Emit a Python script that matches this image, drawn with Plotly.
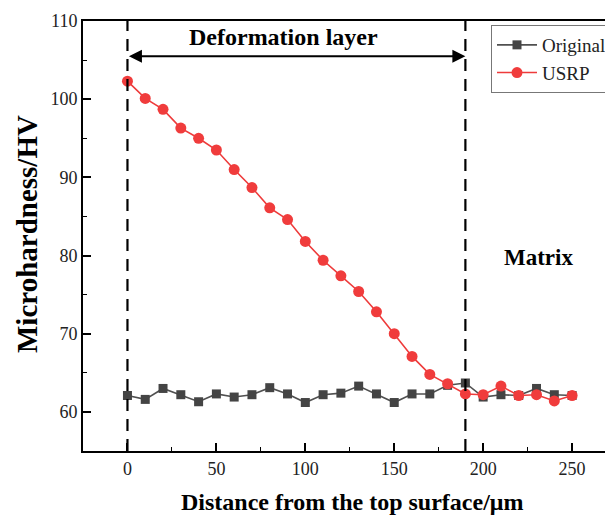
import plotly.graph_objects as go

# Depth profile (µm) and microhardness readings (HV)
depth = [0, 10, 20, 30, 40, 50, 60, 70, 80, 90, 100, 110, 120, 130,
         140, 150, 160, 170, 180, 190, 200, 210, 220, 230, 240, 250]
original_hv = [62.1, 61.6, 63.0, 62.2, 61.3, 62.3, 61.9, 62.2, 63.1, 62.3,
               61.2, 62.2, 62.4, 63.3, 62.3, 61.2, 62.3, 62.3, 63.4, 63.7,
               61.9, 62.2, 62.1, 63.0, 62.2, 62.1]
usrp_hv = [102.3, 100.1, 98.7, 96.3, 95.0, 93.5, 91.0, 88.7, 86.1, 84.6,
           81.8, 79.4, 77.4, 75.4, 72.8, 70.0, 67.1, 64.8, 63.6, 62.3,
           62.2, 63.3, 62.1, 62.2, 61.4, 62.1]

layer_bounds = [0, 190]
x_ticks = [0, 50, 100, 150, 200, 250]
y_ticks = [60, 70, 80, 90, 100, 110]

SERIF = "Liberation Serif, Times New Roman, serif"

# plot area geometry (px) used to place free-floating labels
L, T, B, W, H = 83, 21, 65, 605, 516
PW, PH = W - L, H - T - B

fig = go.Figure()

fig.add_trace(go.Scatter(
    x=depth, y=original_hv, name="Original", mode="lines+markers",
    line=dict(color="#505050", width=1.6),
    marker=dict(symbol="square", size=9, color="#444444"),
))
fig.add_trace(go.Scatter(
    x=depth, y=usrp_hv, name="USRP", mode="lines+markers",
    line=dict(color="#ee3b3b", width=1.6),
    marker=dict(symbol="circle", size=11, color="#f03c3c"),
))

# Dashed boundaries of the deformation layer
for xb in layer_bounds:
    fig.add_shape(type="line", x0=xb, x1=xb, y0=55, y1=110,
                  xref="x", yref="y", layer="above",
                  line=dict(color="black", width=2.2, dash="12px,8px"))

# Double-headed arrow spanning the layer
fig.add_annotation(x=layer_bounds[1], y=105.5, ax=layer_bounds[0], ay=105.5,
                   xref="x", yref="y", axref="x", ayref="y",
                   text="", showarrow=True, arrowhead=2, arrowside="end+start",
                   arrowsize=1.3, arrowwidth=2, arrowcolor="black",
                   startarrowhead=2, startarrowsize=1.3)
fig.add_annotation(x=88, y=107.9, xref="x", yref="y", text="<b>Deformation layer</b>",
                   showarrow=False, font=dict(family=SERIF, size=24, color="black"))
fig.add_annotation(x=231, y=79.8, xref="x", yref="y", text="<b>Matrix</b>",
                   showarrow=False, font=dict(family=SERIF, size=23, color="black"))

# axis titles
fig.add_annotation(x=(352 - L) / PW, y=-(502 - T - PH) / PH, xref="paper", yref="paper",
                   text="<b>Distance from the top surface/μm</b>", showarrow=False,
                   xanchor="center", yanchor="middle",
                   font=dict(family=SERIF, size=24, color="black"))
fig.add_annotation(x=(27 - L) / PW, y=1 - (234 - T) / PH, xref="paper", yref="paper",
                   text="<b>Microhardness/HV</b>", showarrow=False, textangle=-90,
                   xanchor="center", yanchor="middle",
                   font=dict(family=SERIF, size=29, color="black"))

fig.update_layout(
    width=W, height=H,
    margin=dict(l=L, r=0, t=T, b=B, autoexpand=False),
    paper_bgcolor="white", plot_bgcolor="white",
    font=dict(family=SERIF, color="#222222", size=18),
    showlegend=True,
    legend=dict(x=(491 - L) / PW, y=1 - (25 - T) / PH, xanchor="left", yanchor="top",
                xref="paper", yref="paper",
                bgcolor="white", bordercolor="#777777", borderwidth=1,
                font=dict(family=SERIF, size=19, color="#222222"),
                itemwidth=40),
    xaxis=dict(range=[-25, 268.5], tickvals=x_ticks, showgrid=False, zeroline=False,
               showline=True, linecolor="black", linewidth=2, mirror=True,
               ticks="inside", ticklen=8, tickwidth=1.6, tickcolor="black",
               minor=dict(dtick=25, ticks="inside", ticklen=4, tickwidth=1.4, tickcolor="black"),
               tickfont=dict(family=SERIF, size=18, color="#222222")),
    yaxis=dict(range=[55, 110], tickvals=y_ticks, showgrid=False, zeroline=False,
               showline=True, linecolor="black", linewidth=2,
               ticks="inside", ticklen=8, tickwidth=1.6, tickcolor="black",
               minor=dict(dtick=5, ticks="inside", ticklen=4, tickwidth=1.4, tickcolor="black"),
               tickfont=dict(family=SERIF, size=18, color="#222222")),
)

fig.write_html("out.html")
